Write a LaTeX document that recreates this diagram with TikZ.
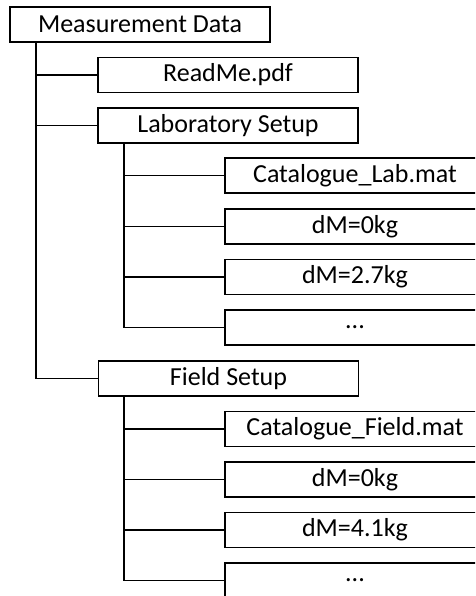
\documentclass[tikz,border=0pt]{standalone}
\usepackage{fontspec}
\setmainfont{Carlito}
\begin{document}
\begin{tikzpicture}[x=0.75pt,y=-0.75pt,
  fbox/.style={draw=black,line width=1.4pt,fill=white,minimum width=195pt,minimum height=26.25pt,inner sep=0pt,font=\fontsize{19.5}{22}\selectfont},
  link/.style={draw=black,line width=1.4pt}]
\useasboundingbox (0,0) rectangle (475,596);
\clip (0,0) rectangle (475,596);
\fill[white] (0,0) rectangle (475,596);
\node[fbox] (root) at (140,24.5) {Measurement Data};
\node[fbox] (readme) at (228,75) {ReadMe.pdf};
\node[fbox] (lab) at (228,125.5) {Laboratory Setup};
\node[fbox] (catlab) at (355,175.5) {Catalogue\_Lab.mat};
\node[fbox] (lab0) at (355,226.5) {dM=0kg};
\node[fbox] (lab27) at (355,277) {dM=2.7kg};
\node[fbox] (labdots) at (355,327.5) {...};
\node[fbox] (field) at (228.5,378.5) {Field Setup};
\node[fbox] (catfield) at (355,429) {Catalogue\_Field.mat};
\node[fbox] (field0) at (355,479.5) {dM=0kg};
\node[fbox] (field41) at (355,530) {dM=4.1kg};
\node[fbox] (fielddots) at (355,580.5) {...};
\foreach \t in {readme,lab,field}
  \draw[link] ([xshift=20pt]root.south west) |- (\t.west);
\foreach \t in {catlab,lab0,lab27,labdots}
  \draw[link] ([xshift=20.5pt]lab.south west) |- (\t.west);
\foreach \t in {catfield,field0,field41,fielddots}
  \draw[link] ([xshift=20pt]field.south west) |- (\t.west);
\end{tikzpicture}
\end{document}
